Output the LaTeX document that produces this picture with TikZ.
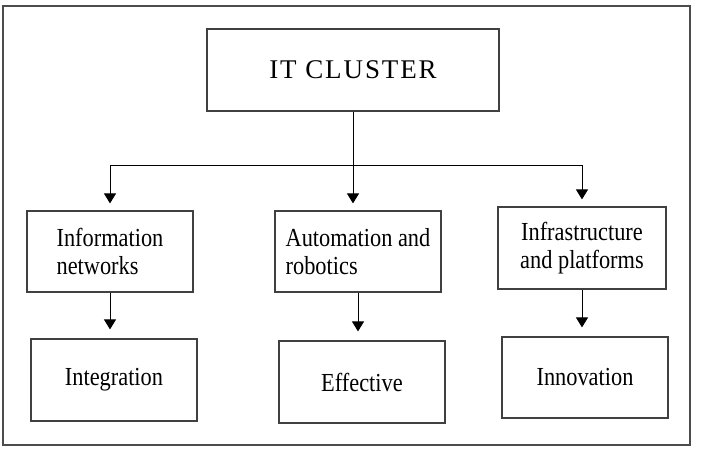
\documentclass[tikz,border=0pt]{standalone}
\usepackage{fontspec}
\setmainfont{Liberation Serif}
\newfontfamily\labelfont[FakeStretch=0.86]{Liberation Serif}
\newfontfamily\titlefont[LetterSpace=7]{Liberation Serif}
\usetikzlibrary{arrows.meta}

\tikzset{
  box/.style={draw=black!75, line width=1.2pt, fill=white, inner sep=0pt,
    minimum width=166pt, minimum height=82pt,
    font=\labelfont\fontsize{26}{28}\selectfont},
  link/.style={draw=black, line width=1pt},
  arrow/.style={link, -{Triangle[width=12pt,length=10pt]}},
}

\begin{document}
\begin{tikzpicture}[x=1pt, y=-1pt]
    % Frame
    \useasboundingbox (0,0) rectangle (710,448);
    \draw[gray!60!black, line width=1.5pt] (3,6) rectangle (690,445);

    % Top box
    \node[box, minimum width=292pt, font=\titlefont\fontsize{27}{28}\selectfont] (cluster) at (353,70) {IT CLUSTER};

    % Second row
    \node[box, minimum height=81pt, align=left] (info) at (110,251.5) {Information\\networks};
    \node[box, minimum height=81pt, align=left] (auto) at (358,251.5) {Automation and\\robotics};
    \node[box, minimum width=168pt, align=center] (infra) at (582,248) {Infrastructure\\and platforms};

    % Third row
    \node[box] (integ) at (114,380) {Integration};
    \node[box] (effect) at (362,382) {Effective};
    \node[box, minimum height=81pt] (innov) at (585,377.5) {Innovation};

    % Connectors
    \coordinate (split) at (cluster.south |- 0,165);
    \draw[link] (cluster.south) -- (split);
    \draw[link] (info.north |- split) -- (infra.north |- split);
    \draw[arrow, shorten >=7pt] (info.north |- split) -- (info.north);
    \draw[arrow, shorten >=7pt] (split) -- (split |- auto.north);
    \draw[arrow, shorten >=7pt] (infra.north |- split) -- (infra.north);
    \draw[arrow, shorten >=9pt] (info.south) -- (info.south |- integ.north);
    \draw[arrow, shorten >=9pt] (auto.south) -- (auto.south |- effect.north);
    \draw[arrow, shorten >=9pt] (infra.south) -- (infra.south |- innov.north);
\end{tikzpicture}
\end{document}
